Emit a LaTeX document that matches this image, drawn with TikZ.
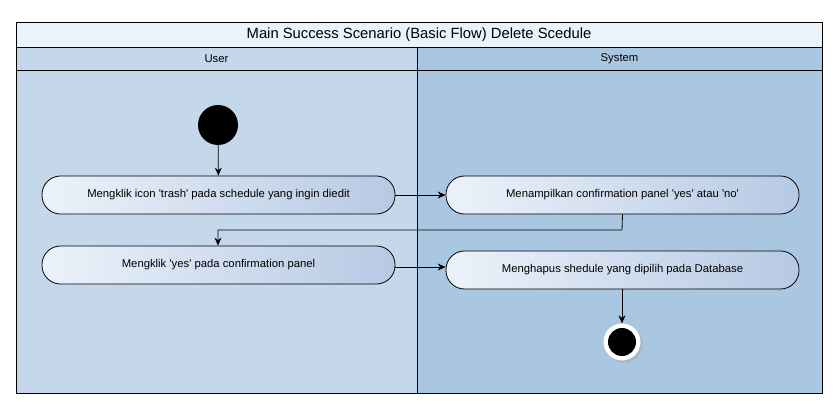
\documentclass[tikz,border=0pt]{standalone}
\usepackage{fontspec}
\setmainfont{Liberation Sans}
\usetikzlibrary{arrows.meta,positioning}
\definecolor{titlefill}{RGB}{234,242,252}
\definecolor{userlane}{RGB}{196,215,235}
\definecolor{syslane}{RGB}{170,199,225}
\definecolor{actleft}{RGB}{236,242,250}
\definecolor{actright}{RGB}{182,201,228}
\newcommand{\q}{\textquotesingle}
\tikzset{
  activity/.style={draw=black, line width=0.8pt, rounded corners=18.5pt, minimum width=353pt, minimum height=38pt, left color=actleft, right color=actright, font=\fontsize{11.3}{13}\selectfont, inner sep=0pt},
  flow/.style={draw=black, line width=0.8pt, -{Stealth[length=8pt,width=7pt]}},
  startnode/.style={circle, fill=black, minimum size=40pt, inner sep=0pt},
  lanelabel/.style={font=\fontsize{11.3}{13}\selectfont},
}
\begin{document}
\begin{tikzpicture}[x=1pt,y=-1pt]
\useasboundingbox (0,0) rectangle (838,409);
\fill[white] (0,0) rectangle (838,409);
% lanes
\fill[userlane] (16,47) rectangle (417,393);
\fill[syslane] (417,47) rectangle (822,393);
\fill[titlefill] (16,22) rectangle (822,47);
\draw[line width=0.8pt] (16,22) rectangle (822,393);
\draw[line width=0.8pt] (16,47) -- (822,47);
\draw[line width=0.8pt] (16,70) -- (822,70);
\draw[line width=0.8pt] (417,47) -- (417,393);
\node[font=\fontsize{14.8}{17}\selectfont] (title) at (419,34.5) {Main Success Scenario (Basic Flow) Delete Scedule};
\node[lanelabel] (user) at (216.5,58.5) {User};
\node[lanelabel] (system) at (619.5,58.5) {System};
% nodes
\node[startnode] (start) at (218,125) {};
\node[activity] (a1) at (218.5,195) {Mengklik icon \q trash\q{} pada schedule yang ingin diedit};
\node[activity] (a2) at (218.5,265) {Mengklik \q yes\q{} pada confirmation panel};
\node[activity] (a3) at (622.5,195) {Menampilkan confirmation panel \q yes\q{} atau \q no\q};
\node[activity] (a4) at (622.5,270) {Menghapus shedule yang dipilih pada Database};
% end node
\fill[gray!70, opacity=0.5] (623.5,343.5) circle (19pt);
\node[circle, fill=white, minimum size=37pt, inner sep=0pt] (endnode) at (622,342) {};
\fill[black] (endnode.center) circle (14pt);
% connectors
\draw[flow] (start) -- (a1);
\draw[flow] (a1) -- (a3);
\coordinate (c1) at (622,230);
\coordinate (c2) at (218,230);
\draw[flow] (a3.south) -- (c1) -- (c2) -- (a2.north -| c2);
\draw[flow] (a2.east |- 0,267) -- (a4.west |- 0,267);
\draw[flow] (a4.south -| endnode) -- (endnode.north);
\end{tikzpicture}
\end{document}
